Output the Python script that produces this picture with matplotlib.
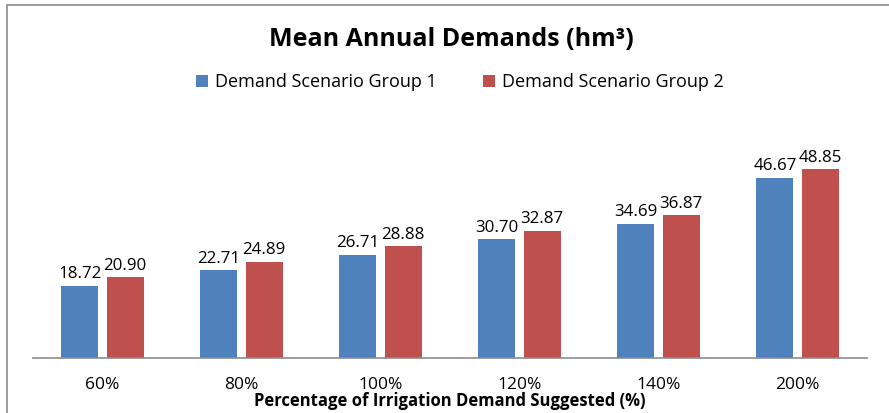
import matplotlib

matplotlib.use("Agg")

import matplotlib.pyplot as plt
import numpy as np
from matplotlib.patches import Rectangle

plt.rcParams["font.family"] = ["Open Sans", "DejaVu Sans"]

categories = ["60%", "80%", "100%", "120%", "140%", "200%"]
group1 = [18.72, 22.71, 26.71, 30.70, 34.69, 46.67]
group2 = [20.90, 24.89, 28.88, 32.87, 36.87, 48.85]
series_names = ["Demand Scenario Group 1", "Demand Scenario Group 2"]

BLUE = "#4F81BD"
RED = "#C0504D"

fig = plt.figure(figsize=(8.89, 4.13), dpi=100)
ax = fig.add_axes([33 / 889, 1 - 358 / 413, 834 / 889, 230 / 413])

x = np.arange(len(categories))
width = 0.266
offset = 0.162
bars1 = ax.bar(x - offset, group1, width, color=BLUE, label=series_names[0])
bars2 = ax.bar(x + offset, group2, width, color=RED, label=series_names[1])

for bars in (bars1, bars2):
    for b in bars:
        ax.text(b.get_x() + b.get_width() / 2, b.get_height() + 0.9,
                f"{b.get_height():.2f}", ha="center", va="bottom", fontsize=12.2)

ax.set_xlim(-0.5, len(categories) - 0.5)
ax.set_ylim(0, 59.5)
ax.set_yticks([])
ax.set_xticks(x)
ax.set_xticklabels(categories, fontsize=12.5)
ax.tick_params(axis="x", length=0, pad=14)
for side in ["top", "right", "left"]:
    ax.spines[side].set_visible(False)
ax.spines["bottom"].set_color("#8c8c8c")
ax.spines["bottom"].set_linewidth(1.2)

ax.set_xlabel("Percentage of Irrigation Demand Suggested (%)", fontsize=12,
              fontweight="bold", labelpad=-1)

fig.text(451 / 889, 1 - 40 / 413, "Mean Annual Demands (hm³)", ha="center",
         va="center", fontsize=18, fontweight="bold")

fig.legend(handles=[bars1, bars2], labels=series_names, loc="center",
           bbox_to_anchor=(460 / 889, 1 - 82 / 413), ncol=2, frameon=False,
           fontsize=13, handlelength=0.65, handleheight=0.65, handletextpad=0.4,
           columnspacing=2.6)

# outer chart frame (only left and top edges visible in the crop)
fig.patches.append(Rectangle((7 / 889, -0.1), 1.1, 1 - 5 / 413 + 0.1,
                             transform=fig.transFigure, fill=False,
                             edgecolor="#8c8c8c", linewidth=1.2))

fig.savefig("out.png", dpi=100)
